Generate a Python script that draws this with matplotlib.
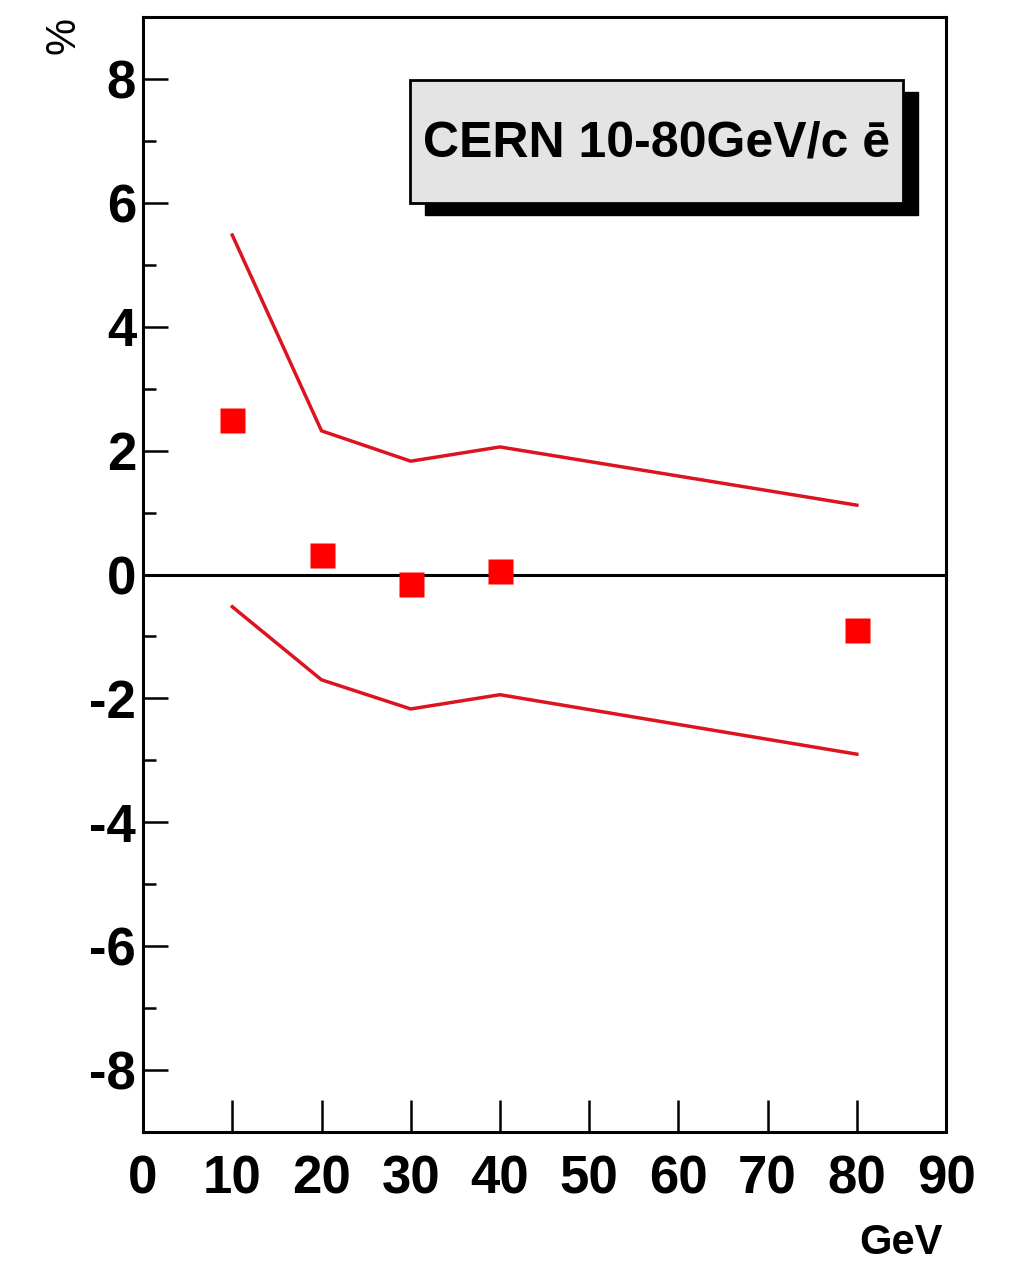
import numpy as np
import matplotlib
matplotlib.use('Agg')
import matplotlib.pyplot as plt
from matplotlib.patches import Rectangle
from matplotlib.ticker import MultipleLocator

plt.rcParams['font.family'] = ['Liberation Sans', 'DejaVu Sans']
plt.rcParams['axes.unicode_minus'] = False

energy = [10, 20, 30, 40, 80]
deviation = [2.5, 0.32, -0.15, 0.05, -0.9]
upper_band = [5.48, 2.32, 1.83, 2.06, 1.12]
lower_band = [-0.52, -1.70, -2.17, -1.94, -2.90]
label_text = 'CERN 10-80GeV/c ē'

fig = plt.figure(figsize=(10.24, 12.63), dpi=100)
ax = fig.add_axes([0.1397, 0.1037, 0.7842, 0.8828])

ax.axhline(0, color='black', lw=2.2, zorder=2)
ax.plot(energy, upper_band, color='#dc1420', lw=2.5, zorder=3)
ax.plot(energy, lower_band, color='#dc1420', lw=2.5, zorder=3)
ax.plot(energy, deviation, 's', color='#ff0000', ms=18, mec='none', zorder=4)

ax.set_xlim(0, 90)
ax.set_ylim(-9, 9)
ax.xaxis.set_major_locator(MultipleLocator(10))
ax.yaxis.set_major_locator(MultipleLocator(2))
ax.yaxis.set_minor_locator(MultipleLocator(1))
ax.tick_params(axis='x', which='major', direction='in', length=23, width=1.8,
               top=False, pad=16, labelsize=38)
ax.tick_params(axis='y', which='major', direction='in', length=18, width=1.8,
               right=False, pad=5, labelsize=38)
ax.tick_params(axis='y', which='minor', direction='in', length=9, width=1.8, right=False)
for lab in ax.get_xticklabels() + ax.get_yticklabels():
    lab.set_fontweight('bold')
for sp in ax.spines.values():
    sp.set_linewidth(2.2)

fig.text(0.062, 0.972, '%', rotation=90, fontsize=30, ha='center', va='center')
fig.text(0.880, 0.016, 'GeV', fontsize=30, fontweight='bold', ha='center', va='center')

# label box with shadow
bx0, bx1, by0, by1 = 0.3325, 0.9465, 0.8332, 0.9435
ax.add_patch(Rectangle((bx0 + 0.018, by0 - 0.011), bx1 - bx0, by1 - by0,
                       transform=ax.transAxes, facecolor='black', edgecolor='black',
                       zorder=5, clip_on=False))
ax.add_patch(Rectangle((bx0, by0), bx1 - bx0, by1 - by0, transform=ax.transAxes,
                       facecolor='#e4e4e4', edgecolor='black', lw=2, zorder=6,
                       clip_on=False))
ax.text((bx0 + bx1) / 2, 0.887, label_text, transform=ax.transAxes, fontsize=36,
        fontweight='bold', ha='center', va='center', zorder=7)

fig.savefig('out.png', dpi=100)
